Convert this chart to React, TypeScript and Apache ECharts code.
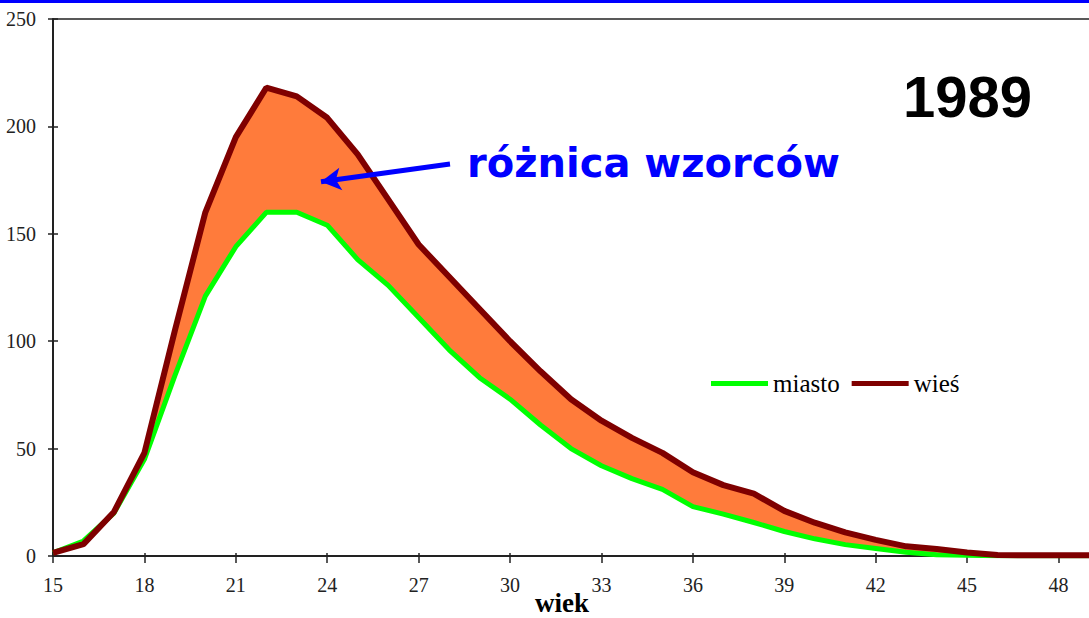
import React, { useEffect, useRef } from "react";
import * as echarts from "echarts";

const ages: string[] = [
  "15", "16", "17", "18", "19", "20", "21", "22", "23", "24", "25", "26", "27",
  "28", "29", "30", "31", "32", "33", "34", "35", "36", "37", "38", "39", "40",
  "41", "42", "43", "44", "45", "46", "47", "48", "49",
];
const miasto: number[] = [
  1.5, 7, 20, 45, 84, 121, 144, 160, 160, 154, 138, 126, 111, 96, 83, 73, 61,
  50, 42, 36, 31, 23, 19.5, 15.6, 11.4, 8, 5.3, 3.5, 1.7, 0.6, 0.3, 0.1, 0.1,
  0.1, 0.1,
];
const wies: number[] = [
  1.5, 5.5, 20.5, 48, 105, 160, 195, 218, 214, 204, 187, 166, 145, 130, 115,
  100, 86, 73, 63, 55, 48, 39, 33, 29, 21, 15.5, 11, 7.5, 4.5, 3.3, 1.6, 0.5,
  0.3, 0.3, 0.3,
];
const yTicks: number[] = [0, 50, 100, 150, 200, 250];
const xLabelEvery = 3;
const seriesNames: string[] = ["miasto", "wieś"];
const yearLabel = "1989";
const annotationText = "różnica wzorców";

export default function App() {
  const ref = useRef<HTMLDivElement>(null);
  useEffect(() => {
    if (!ref.current) return;
    const chart = echarts.init(ref.current, null, { renderer: "svg" });
    const band = wies.map((v, i) => Math.max(0, v - miasto[i]));
    const serif = "'Liberation Serif', 'Times New Roman', serif";
    const yMin = yTicks[0];
    const yMax = yTicks[yTicks.length - 1];
    const yStep = yTicks[1] - yTicks[0];
    const catInterval = xLabelEvery - 1;
    const axisColor = "#222";

    const baseCat = {
      type: "category",
      data: ages,
      boundaryGap: false,
      splitLine: { show: false },
    };

    chart.setOption({
      animation: false,
      backgroundColor: "#ffffff",
      grid: {
        left: 53,
        right: 0,
        top: 19,
        bottom: 62,
        containLabel: false,
        outerBoundsMode: "none",
      },
      legend: {
        data: seriesNames,
        left: 711,
        top: 371,
        padding: 0,
        icon: "rect",
        itemWidth: 57,
        itemHeight: 5,
        itemGap: 12,
        textStyle: { fontFamily: serif, fontSize: 25, color: "#000" },
      },
      xAxis: [
        {
          ...baseCat,
          position: "bottom",
          axisLine: { onZero: false, lineStyle: { color: axisColor, width: 2 } },
          axisTick: {
            show: true,
            interval: catInterval,
            length: 7,
            lineStyle: { color: axisColor, width: 1.5 },
          },
          axisLabel: {
            interval: catInterval,
            margin: 19,
            fontFamily: serif,
            fontSize: 20,
            color: axisColor,
          },
          name: "wiek",
          nameLocation: "middle",
          nameGap: 36,
          nameMoveOverlap: false,
          nameTextStyle: {
            fontFamily: serif,
            fontWeight: "bold",
            fontSize: 27,
            lineHeight: 22,
            color: "#000",
            padding: [0, 18, 0, 0],
          },
        },
        {
          ...baseCat,
          position: "bottom",
          axisLine: { show: false, onZero: false },
          axisTick: {
            show: true,
            inside: true,
            interval: catInterval,
            length: 3,
            lineStyle: { color: axisColor, width: 1.5 },
          },
          axisLabel: { show: false },
        },
        {
          ...baseCat,
          position: "top",
          axisLine: { show: true, onZero: false, lineStyle: { color: axisColor, width: 1.5 } },
          axisTick: { show: false },
          axisLabel: { show: false },
        },
      ],
      yAxis: [
        {
          type: "value",
          min: yMin,
          max: yMax,
          interval: yStep,
          axisLine: { show: true, onZero: false, lineStyle: { color: axisColor, width: 2 } },
          axisTick: { show: true, length: 5, lineStyle: { color: axisColor, width: 1.5 } },
          axisLabel: { margin: 17, fontFamily: serif, fontSize: 20, color: axisColor },
          splitLine: { show: false },
        },
        {
          type: "value",
          min: yMin,
          max: yMax,
          interval: yStep,
          position: "left",
          axisLine: { show: false, onZero: false },
          axisTick: {
            show: true,
            inside: true,
            length: 5,
            lineStyle: { color: axisColor, width: 1.5 },
          },
          axisLabel: { show: false },
          splitLine: { show: false },
        },
      ],
      series: [
        {
          name: "base",
          type: "line",
          stack: "band",
          data: miasto,
          symbol: "none",
          lineStyle: { opacity: 0, width: 0 },
          silent: true,
          z: 1,
        },
        {
          name: "band",
          type: "line",
          stack: "band",
          data: band,
          symbol: "none",
          lineStyle: { opacity: 0, width: 0 },
          areaStyle: { color: "#FF7B3B", opacity: 1 },
          silent: true,
          z: 1,
          markLine: {
            silent: true,
            symbol: ["none", "arrow"],
            symbolSize: [17, 20],
            label: { show: false },
            lineStyle: { color: "#0000FF", width: 5, type: "solid" },
            data: [[{ x: 450, y: 164 }, { x: 321, y: 181.7 }]],
            z: 10,
          },
        },
        {
          name: seriesNames[0],
          type: "line",
          data: miasto,
          symbol: "none",
          color: "#00FF00",
          lineStyle: { color: "#00FF00", width: 5 },
          z: 3,
        },
        {
          name: seriesNames[1],
          type: "line",
          data: wies,
          symbol: "none",
          color: "#7F0000",
          lineStyle: { color: "#7F0000", width: 6 },
          z: 4,
        },
      ],
      graphic: [
        {
          type: "rect",
          left: 0,
          top: 0,
          shape: { width: 1089, height: 3 },
          style: { fill: "#0000FF" },
        },
        {
          type: "text",
          x: 903,
          y: 96.5,
          style: {
            text: yearLabel,
            fill: "#000",
            font: "bold 58px 'Liberation Sans', Arial, sans-serif",
            verticalAlign: "middle",
            align: "left",
          },
        },
        {
          type: "text",
          x: 467,
          y: 163,
          style: {
            text: annotationText,
            fill: "#0000FF",
            font: "bold 40px 'DejaVu Sans', sans-serif",
            verticalAlign: "middle",
            align: "left",
          },
        },
      ],
    });
    return () => chart.dispose();
  }, []);
  return (
    <div
      ref={ref}
      style={{ position: "fixed", left: 0, top: 0, width: 1089, height: 618 }}
    />
  );
}
